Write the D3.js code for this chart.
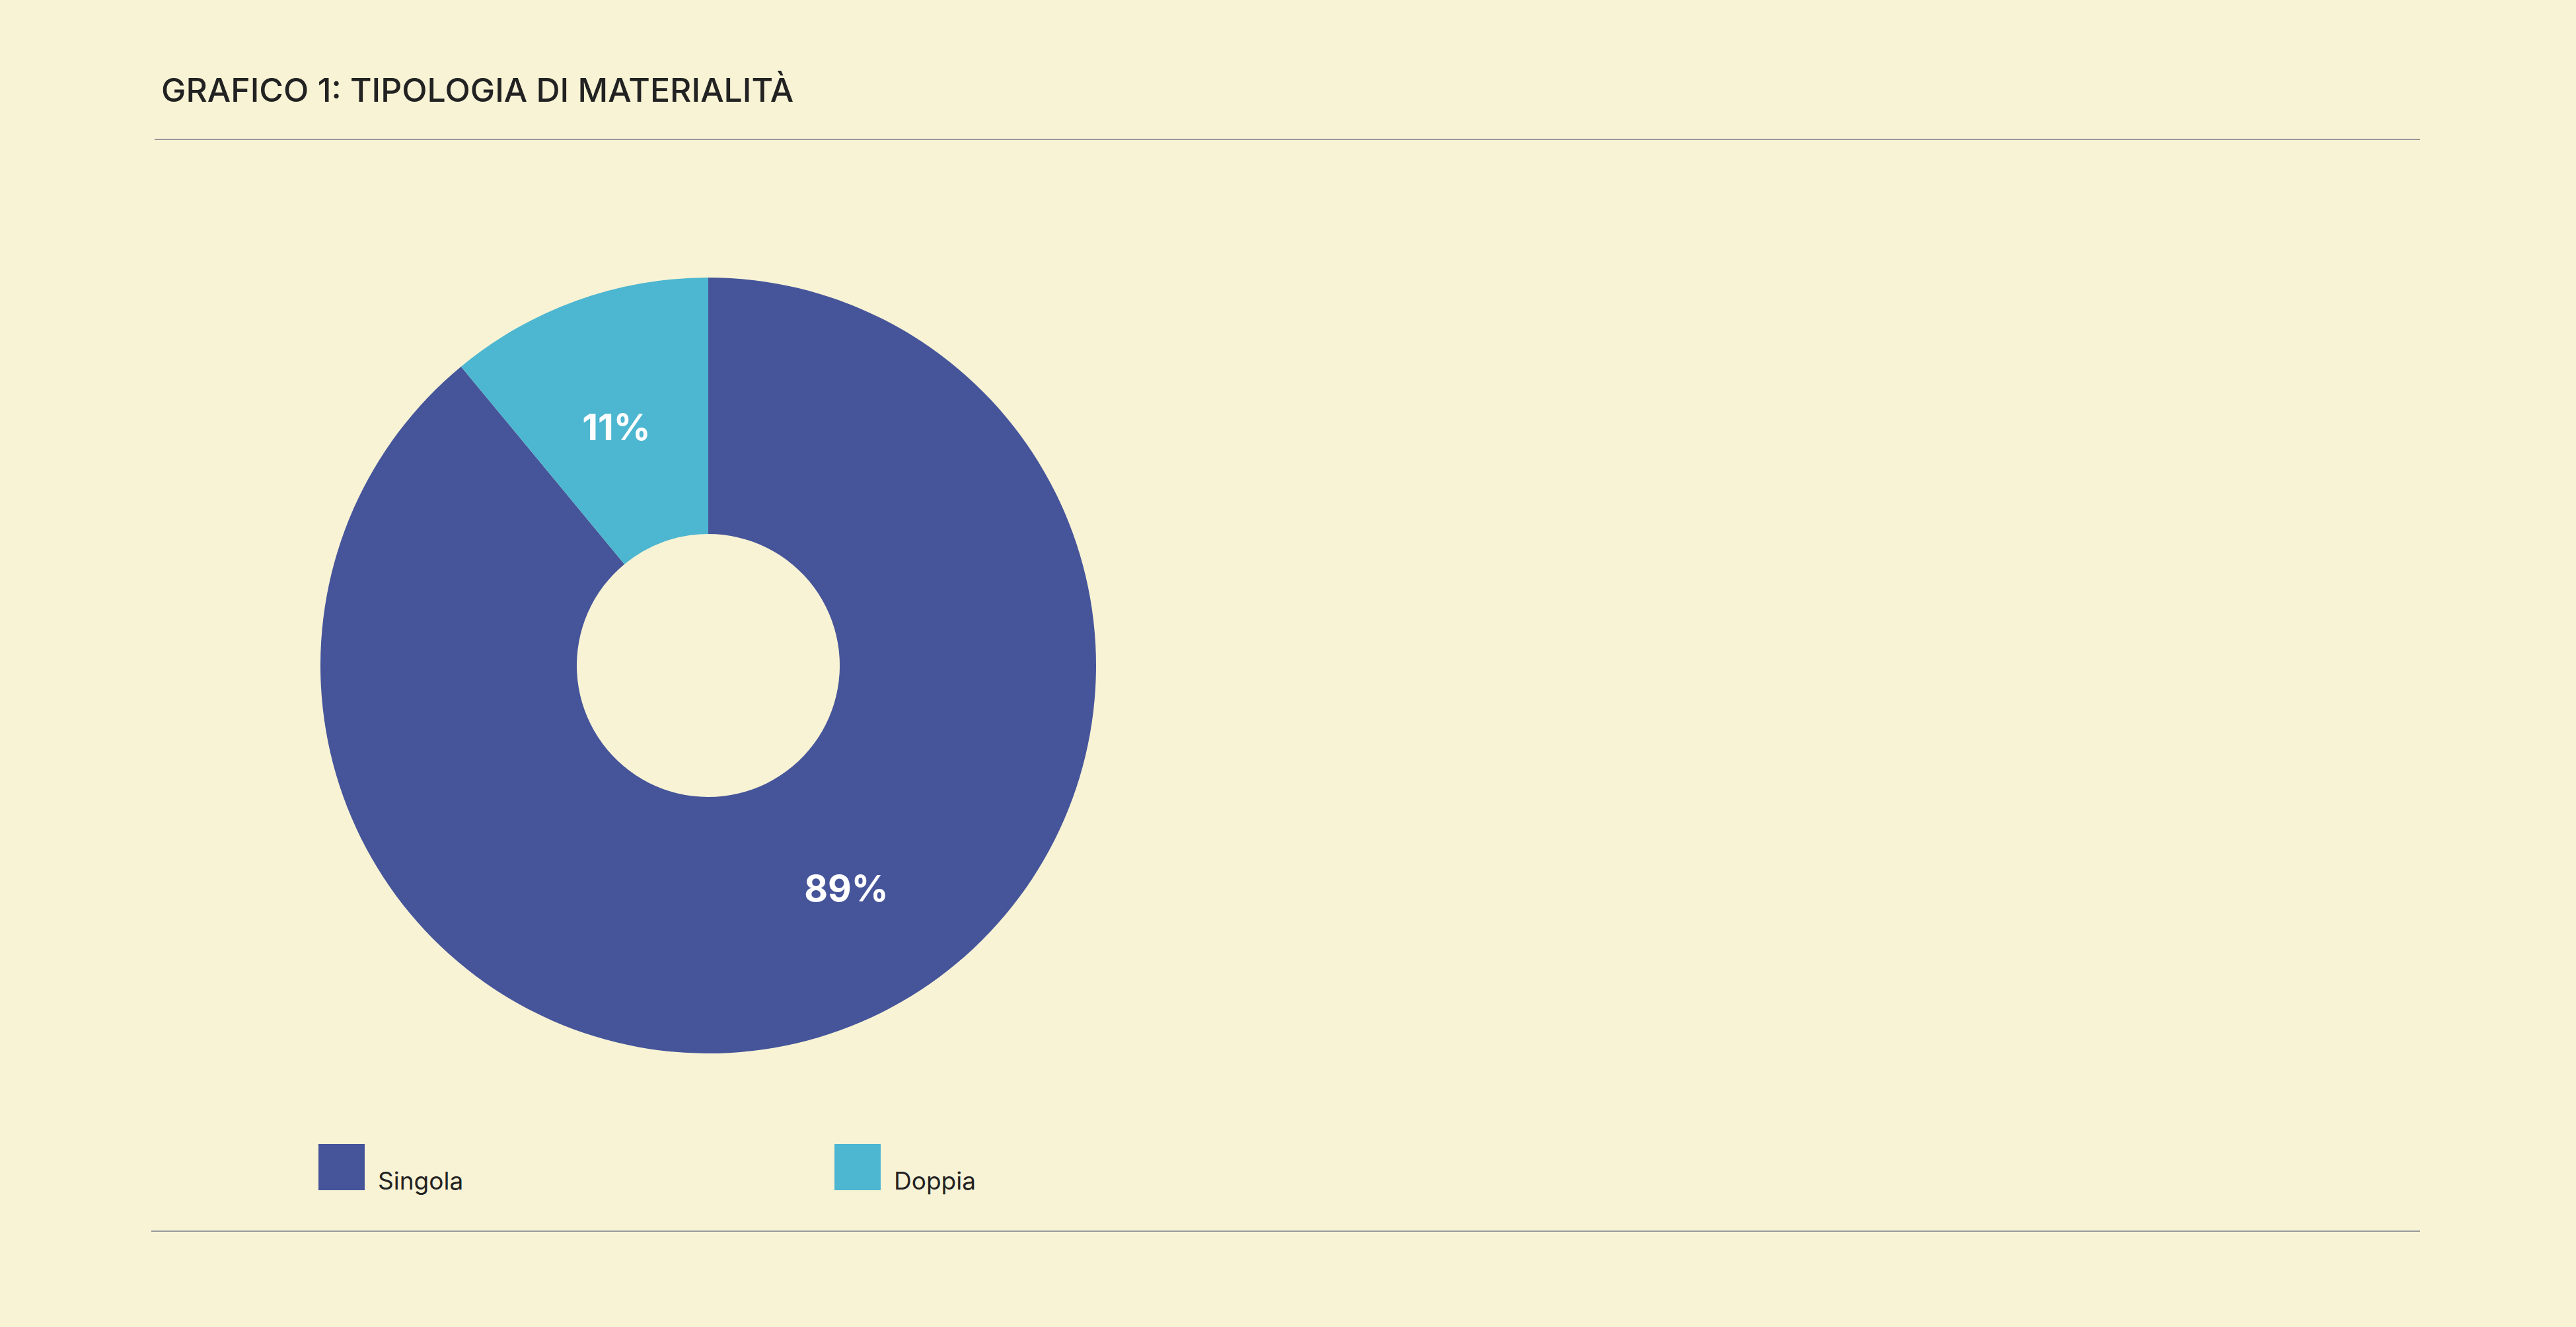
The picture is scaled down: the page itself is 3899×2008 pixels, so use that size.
<!DOCTYPE html>
<html><head><meta charset="utf-8">
<script src="https://cdn.jsdelivr.net/npm/d3@7"></script>
<style>body{margin:0;background:#f8f3d5;}</style>
</head><body>
<svg id="chart" width="3899" height="2008"></svg>
<script>
var categories = ["Singola", "Doppia"];
var values = [89, 11];
var colors = ["#46559a", "#4db6d0"];

var svg = d3.select("#chart");
svg.append("rect").attr("width",3899).attr("height",2008).attr("fill","#f8f3d5");

svg.append("text").attr("x",244).attr("y",154)
  .style("font-family","Inter, 'Open Sans', sans-serif").style("font-size","50px").style("font-weight",500)
  .attr("fill","#222").text("GRAFICO 1: TIPOLOGIA DI MATERIALITÀ");

svg.append("line").attr("x1",234).attr("x2",3663).attr("y1",211).attr("y2",211).attr("stroke","#999").attr("stroke-width",2);
svg.append("line").attr("x1",229).attr("x2",3663).attr("y1",1863).attr("y2",1863).attr("stroke","#999").attr("stroke-width",2);

var pie = d3.pie().sort(null)(values);
var arc = d3.arc().innerRadius(199).outerRadius(587);
var g = svg.append("g").attr("transform","translate(1072,1007)");
g.selectAll("path").data(pie).enter().append("path")
  .attr("d",arc).attr("fill",function(d,i){return colors[i];});

var labelPos = [[209,338],[-139,-360]];
g.selectAll(".lbl").data(pie).enter().append("text")
  .attr("x",function(d,i){return labelPos[i][0];}).attr("y",function(d,i){return labelPos[i][1];})
  .attr("text-anchor","middle").attr("dy","0.35em")
  .style("font-family","Inter, sans-serif").style("font-size","55px").style("font-weight",700)
  .attr("fill","#fff").text(function(d){return d.value+"%";});

var legX = [482, 1263];
categories.forEach(function(c,i){
  svg.append("rect").attr("x",legX[i]).attr("y",1731).attr("width",70).attr("height",70).attr("fill",colors[i]);
  svg.append("text").attr("x",legX[i]+90).attr("y",1800)
    .style("font-family","Inter, sans-serif").style("font-size","37px").attr("fill","#222").text(c);
});
</script>
</body></html>
